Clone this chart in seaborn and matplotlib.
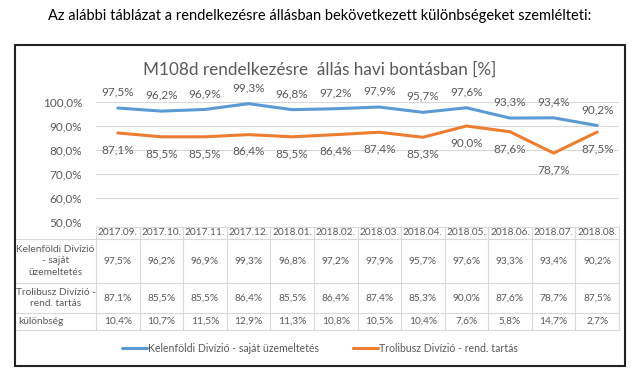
import numpy as np
import pandas as pd
import seaborn as sns
import matplotlib.pyplot as plt
from matplotlib.patches import Rectangle
from matplotlib.lines import Line2D

# data
months = ['2017.09.', '2017.10.', '2017.11.', '2017.12.', '2018.01.', '2018.02.',
          '2018.03.', '2018.04.', '2018.05.', '2018.06.', '2018.07.', '2018.08.']
kelenfold = [97.5, 96.2, 96.9, 99.3, 96.8, 97.2, 97.9, 95.7, 97.6, 93.3, 93.4, 90.2]
trolibusz = [87.1, 85.5, 85.5, 86.4, 85.5, 86.4, 87.4, 85.3, 90.0, 87.6, 78.7, 87.5]
kulonbseg = [10.4, 10.7, 11.5, 12.9, 11.3, 10.8, 10.5, 10.4, 7.6, 5.8, 14.7, 2.7]

name_k = 'Kelenföldi Divízió - saját üzemeltetés'
name_t = 'Trolibusz Divízió - rend. tartás'
row_labels = ['Kelenföldi Divízió\n- saját\nüzemeltetés', 'Trolibusz Divízió -\nrend. tartás', 'különbség']

BLUE = '#5b9bd5'
ORANGE = '#ed7d31'
GREY = '#595959'
GRID = '#d9d9d9'

sns.set_theme(style='white')
plt.rcParams['font.family'] = ['Lato', 'DejaVu Sans']


def pct(v):
    return f'{v:.1f}'.replace('.', ',') + '%'


df = pd.DataFrame({'x': list(range(len(months))) * 2,
                   'value': kelenfold + trolibusz,
                   'series': [name_k] * len(months) + [name_t] * len(months)})

W, H = 640, 383
fig = plt.figure(figsize=(6.4, 3.83), dpi=100)

# heading above the chart
fig.text(0.5, 1 - 16 / H, 'Az alábbi táblázat a rendelkezésre állásban bekövetkezett különbségeket szemlélteti:',
         ha='center', va='center', fontsize=10.5, color='black')

# chart frame
fig.patches.append(Rectangle((15 / W, 1 - 366 / H), 610 / W, 321 / H, transform=fig.transFigure,
                             fill=False, edgecolor='#222222', linewidth=1.5))

fig.text(320 / W, 1 - 70 / H, 'M108d rendelkezésre  állás havi bontásban [%]',
         ha='center', va='center', fontsize=12.3, color=GREY)

x0, x1 = 96, 619
ax = fig.add_axes([x0 / W, 1 - 222 / H, (x1 - x0) / W, 120 / H])
sns.lineplot(data=df, x='x', y='value', hue='series', palette=[BLUE, ORANGE],
             linewidth=2.2, ax=ax, legend=False)
ax.set_xlim(-0.5, len(months) - 0.5)
ax.set_ylim(50, 100)
ax.set_yticks(np.arange(50, 101, 10))
ax.set_yticklabels([pct(v) for v in np.arange(50, 101, 10)], color=GREY, fontsize=8.5)
ax.set_xticks([])
ax.set_xlabel('')
ax.set_ylabel('')
ax.tick_params(axis='y', length=0, pad=10)
ax.yaxis.grid(True, color=GRID, linewidth=0.8)
for s in ax.spines.values():
    s.set_visible(False)

for i in range(len(months)):
    ax.annotate(pct(kelenfold[i]), (i, kelenfold[i]), xytext=(0, 11.5), textcoords='offset points',
                ha='center', va='center', fontsize=8.5, color=GREY, annotation_clip=False)
    ax.annotate(pct(trolibusz[i]), (i, trolibusz[i]), xytext=(0, -12), textcoords='offset points',
                ha='center', va='center', fontsize=8.5, color=GREY, annotation_clip=False)

# data table below the plot
rows = [227, 239, 283, 313, 330]
tab = fig.add_axes([x0 / W, 1 - rows[-1] / H, (x1 - x0) / W, (rows[-1] - rows[0]) / H])
tab.set_xlim(-0.5, len(months) - 0.5)
tab.set_ylim(rows[-1], rows[0])
tab.axis('off')
col_w = (x1 - x0) / len(months)
left = -0.5 - (x0 - 15) / col_w

tab.plot([-0.5, len(months) - 0.5], [rows[0], rows[0]], color=GRID, lw=0.8, clip_on=False)
for y in rows[1:]:
    tab.plot([left, len(months) - 0.5], [y, y], color=GRID, lw=0.8, clip_on=False)
for i in range(len(months) + 1):
    tab.plot([i - 0.5, i - 0.5], [rows[0], rows[-1]], color=GRID, lw=0.8, clip_on=False)

fs = 7.3
table_rows = [kelenfold, trolibusz, kulonbseg]
for i, m in enumerate(months):
    tab.text(i, (rows[0] + rows[1]) / 2, m, ha='center', va='center', fontsize=fs, color=GREY)
    for r, vals in enumerate(table_rows):
        tab.text(i, (rows[r + 1] + rows[r + 2]) / 2, pct(vals[i]), ha='center', va='center',
                 fontsize=fs, color=GREY)

lab_center = -0.5 - (x0 - 55.5) / col_w
for r, lab in enumerate(row_labels):
    yc = (rows[r + 1] + rows[r + 2]) / 2
    if r < 2:
        tab.text(lab_center, yc, lab, ha='center', va='center', fontsize=fs, color=GREY,
                 linespacing=1.4, clip_on=False)
    else:
        tab.text(-0.5 - (x0 - 18) / col_w, yc, lab, ha='left', va='center', fontsize=fs,
                 color=GREY, clip_on=False)

handles = [Line2D([], [], color=BLUE, lw=2.2), Line2D([], [], color=ORANGE, lw=2.2)]
fig.legend(handles, [name_k, name_t], loc='center', bbox_to_anchor=(0.5, 1 - 348 / H), ncol=2,
           frameon=False, fontsize=7.6, labelcolor=GREY, handlelength=2.4, handletextpad=0.1,
           columnspacing=3.2)

fig.savefig('out.png', dpi=100)
